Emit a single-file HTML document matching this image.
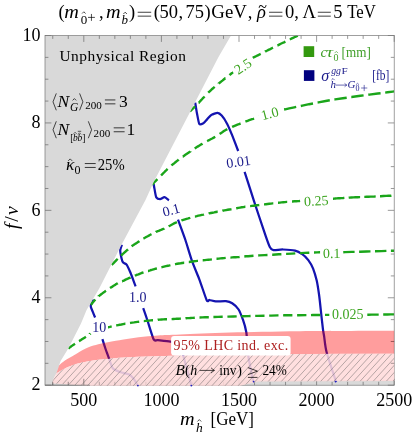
<!DOCTYPE html>
<html><head><meta charset="utf-8"><title>plot</title>
<style>html,body{margin:0;padding:0;background:#fff;}svg{display:block;will-change:transform;}text{font-family:"Liberation Serif",serif;}.i{font-style:italic;} .s{font-family:"Liberation Sans",sans-serif;}</style></head><body>
<svg width="415" height="436" viewBox="0 0 415 436">
<defs>
<clipPath id="pc"><rect x="45.0" y="35.5" width="349.2" height="349.7"/></clipPath>
<clipPath id="lpc"><path d="M50.0,380.0 C51.0,378.9 54.1,375.2 56.2,373.5 C58.3,371.8 60.6,370.7 62.5,369.7 C64.3,368.7 64.9,368.3 67.3,367.3 C69.7,366.3 73.4,364.7 76.9,363.7 C80.4,362.7 85.0,361.8 88.5,361.2 C92.0,360.6 95.0,360.2 98.2,359.8 C101.5,359.4 104.5,359.2 108.0,358.9 C111.5,358.6 115.6,358.1 119.3,357.8 C123.0,357.5 126.8,357.4 130.0,357.2 C133.2,357.0 133.9,357.0 138.5,356.8 C143.1,356.6 150.9,356.4 157.8,356.2 C164.7,356.0 166.3,355.7 180.0,355.4 C193.7,355.1 220.0,354.6 240.0,354.4 C260.0,354.2 274.3,354.1 300.0,354.0 C325.7,353.9 378.5,353.8 394.2,353.8 L394.6,381.0 L258.0,381.5 L240.0,385.8 L86.0,385.8 L45.0,382.8 L45,379.4 Z"/></clipPath>
<clipPath id="ng"><path d="M231.0,35.5 L218.5,57.0 L195.0,102.5 L153.7,182.0 L145.5,200.0 L120.6,246.6 L99.5,288.0 L86.6,310.0 L81.0,323.5 L68.3,348.5 L60.6,361.0 L56.7,372.6 L52.9,380.3 L51.8,386.0 L394.6,386.0 L394.6,35.5 Z"/></clipPath>
</defs>
<rect width="415" height="436" fill="#fff"/>
<g clip-path="url(#pc)">
<rect x="45.0" y="380" width="349.2" height="6" fill="#d9d9d9"/>
<path d="M195.2,102.6 C195.4,103.7 196.4,110.5 196.9,112.9 C197.4,115.3 198.6,122.8 199.3,123.9 C200.0,125.0 202.5,123.7 203.4,123.2 C204.3,122.7 206.4,120.0 207.3,119.1 C208.2,118.2 210.3,115.6 211.4,114.9 C212.5,114.2 216.5,112.8 217.6,112.9 C218.7,113.0 220.6,114.4 221.7,115.6 C222.8,116.8 226.1,121.8 227.2,123.9 C228.3,126.0 230.8,131.9 232.0,134.9 C233.2,137.9 237.5,149.2 238.2,151.0" fill="none" stroke="#1414b0" stroke-width="2.25" stroke-linejoin="round"/>
<path d="M244.6,171.9 C245.7,175.2 252.0,194.8 254.1,201.3 C256.2,207.8 262.0,225.1 263.7,230.2 C265.4,235.3 268.7,244.9 269.8,247.1 C270.9,249.3 271.9,249.9 273.4,250.2 C274.9,250.5 280.6,249.4 283.0,249.5 C285.4,249.6 293.0,250.2 295.1,250.7 C297.2,251.2 300.7,253.1 302.2,254.1 C303.7,255.1 307.1,258.5 308.3,260.1 C309.5,261.7 312.2,266.3 313.1,268.6 C314.0,270.9 316.0,277.7 316.7,280.6 C317.4,283.5 318.6,291.5 319.1,295.0 C319.6,298.5 320.6,308.2 321.0,312.0 C321.4,315.8 322.6,326.2 322.9,328.9 C323.2,331.6 323.7,333.6 324.1,336.1 C324.5,338.6 325.2,346.7 326.5,351.8 C327.8,356.9 335.0,378.6 336.1,381.9" fill="none" stroke="#1414b0" stroke-width="2.25" stroke-linejoin="round"/>
<path d="M153.6,183.8 C153.7,184.4 154.2,187.4 154.5,188.9 C154.8,190.4 155.7,196.3 156.3,197.4 C156.9,198.5 159.2,199.2 160.1,199.2 C161.0,199.2 163.5,197.0 164.5,197.1 C165.5,197.2 168.5,199.9 169.0,200.2" fill="none" stroke="#1414b0" stroke-width="2.25" stroke-linejoin="round"/>
<path d="M178.0,219.6 C178.8,221.9 183.9,235.5 185.4,240.0 C186.9,244.5 190.3,256.0 191.8,260.4 C193.3,264.8 197.6,274.9 199.3,279.3 C201.0,283.7 205.6,297.9 206.7,300.2 C207.8,302.5 208.5,299.9 209.5,300.0 C210.5,300.1 214.0,301.3 215.8,301.4 C217.6,301.5 224.1,301.0 225.9,301.2 C227.7,301.4 230.8,302.4 232.2,303.3 C233.6,304.2 237.4,307.6 238.6,309.5 C239.8,311.4 242.2,317.7 243.1,320.2 C244.0,322.7 245.8,329.5 246.3,332.3 C246.8,335.1 247.2,342.4 247.4,345.0 C247.6,347.6 248.0,353.2 248.3,355.8 C248.6,358.4 250.0,365.2 250.5,368.0 C251.0,370.8 252.8,379.6 253.1,381.1" fill="none" stroke="#1414b0" stroke-width="2.25" stroke-linejoin="round"/>
<path d="M121.9,244.7 C121.7,245.4 120.2,249.1 120.2,250.6 C120.2,252.1 121.2,256.9 121.5,258.2 C121.8,259.5 122.6,261.9 123.2,262.6 C123.8,263.3 125.8,263.5 126.6,264.6 C127.4,265.7 129.5,270.4 130.5,272.8 C131.5,275.2 135.0,284.8 135.6,286.3" fill="none" stroke="#1414b0" stroke-width="2.25" stroke-linejoin="round"/>
<path d="M143.2,308.2 C143.7,309.5 146.1,316.5 147.3,320.0 C148.5,323.5 152.5,337.2 153.7,339.4 C154.9,341.6 156.0,340.0 157.8,340.2 C159.6,340.4 168.1,341.3 170.3,341.6 C172.5,341.9 176.4,342.0 177.5,342.6 C178.6,343.2 179.9,345.5 180.5,347.0 C181.1,348.5 182.6,353.2 183.3,355.8 C184.0,358.4 186.3,366.7 187.2,370.0 C188.1,373.3 190.8,383.5 191.2,385.2" fill="none" stroke="#1414b0" stroke-width="2.25" stroke-linejoin="round"/>
<path d="M93.6,299.5 C93.3,300.2 90.8,304.5 90.7,305.8 C90.6,307.1 92.1,310.1 92.6,311.4 C93.1,312.7 94.8,316.8 95.1,317.5" fill="none" stroke="#1414b0" stroke-width="2.25" stroke-linejoin="round"/>
<path d="M102.4,339.2 C102.7,340.2 104.7,346.4 105.4,348.5 C106.1,350.6 108.1,355.9 108.9,358.1 C109.7,360.3 111.6,366.7 112.8,368.2 C114.0,369.7 118.2,371.3 120.0,372.0 C121.8,372.7 127.3,373.5 128.8,374.2 C130.3,374.9 132.4,377.1 133.4,378.4 C134.4,379.7 137.3,384.7 137.8,385.5" fill="none" stroke="#1414b0" stroke-width="2.25" stroke-linejoin="round"/>
<path d="M190.0,111.4 L190.0,111.4 L190.0,111.4 L189.9,111.5 L189.9,111.5 L189.9,111.5 L189.9,111.5 L190.1,111.3 L190.5,110.9 L191.0,110.4 L191.8,109.6 L192.8,108.7 L193.9,107.6 L195.1,106.4 L195.1,106.4 M198.7,102.7 L198.8,102.7 L199.9,101.5 L200.9,100.4 L202.0,99.3 L203.0,98.1 L204.1,97.0 L204.6,96.4 M208.2,92.7 L208.5,92.4 L209.7,91.3 L211.0,90.2 L212.2,89.0 L213.5,87.9 L214.7,86.9 M218.7,83.6 L218.7,83.5 L220.0,82.5 L221.4,81.4 L222.7,80.4 L224.0,79.3 L225.3,78.3 L225.4,78.3 M229.5,75.1 L229.8,74.8 L230.8,74.0 L231.7,73.3 L232.6,72.6 L233.3,72.0 L234.0,71.5 L234.6,71.0 L234.9,70.8 M252.7,57.8 L252.9,57.7 L253.5,57.4 L254.2,57.1 L255.1,56.7 L256.0,56.2 L257.1,55.7 L258.3,55.1 L259.5,54.5 L260.7,53.9 M265.1,51.7 L265.2,51.6 L266.8,50.8 L268.5,49.9 L270.2,49.1 L271.8,48.2 L273.0,47.6 M277.4,45.5 L277.7,45.4 L279.2,44.6 L280.8,43.8 L282.4,43.0 L284.0,42.3 L285.4,41.6 M289.8,39.5 L290.2,39.3 L291.9,38.4 L293.6,37.6 L295.2,36.8 L296.7,36.1 L297.8,35.6 M152.6,184.2 L152.6,184.2 L152.6,184.1 L152.6,184.1 L152.7,184.1 L152.7,184.0 L152.8,183.9 L152.9,183.7 L153.2,183.4 L153.5,183.1 L153.9,182.7 L154.4,182.2 L154.9,181.7 L155.5,181.1 L156.2,180.4 L157.0,179.6 L157.4,179.2 M161.1,175.5 L161.4,175.2 L162.6,173.9 L164.0,172.5 L165.3,171.1 L166.7,169.8 L167.6,168.9 M171.5,165.5 L171.6,165.4 L173.0,164.2 L174.4,163.1 L175.7,162.0 L177.1,160.9 L178.6,159.8 L178.7,159.7 M182.8,156.6 L182.9,156.6 L184.4,155.5 L185.8,154.4 L187.3,153.4 L188.8,152.4 L190.3,151.4 L190.3,151.3 M194.7,148.5 L194.7,148.5 L196.2,147.5 L197.6,146.6 L199.1,145.7 L200.6,144.8 L202.1,143.9 L202.5,143.6 M207.1,141.1 L207.3,141.0 L209.0,140.2 L210.6,139.3 L212.2,138.5 L213.8,137.6 L215.2,136.8 M219.6,134.0 L219.9,133.8 L221.2,132.9 L222.6,132.0 L223.9,131.1 L225.3,130.2 L226.8,129.4 L227.3,129.1 M232.1,126.9 L232.3,126.8 L234.0,126.1 L235.8,125.4 L237.5,124.7 L239.2,124.0 L240.6,123.5 M245.4,121.6 L245.9,121.4 L247.6,120.8 L249.2,120.2 L250.7,119.7 L252.1,119.2 L253.3,118.8 L254.1,118.5 M259.0,116.7 L259.1,116.7 L259.4,116.6 M284.1,109.5 L285.2,109.3 L289.2,108.4 L294.3,107.3 L296.2,106.9 M300.8,106.0 L302.4,105.6 L309.1,104.2 L313.0,103.5 M317.6,102.5 L318.5,102.4 L325.7,101.0 L329.8,100.3 M334.4,99.5 L335.1,99.4 L342.9,98.2 L346.7,97.7 M351.3,97.0 L351.5,97.0 L360.5,95.8 L363.6,95.4 M368.3,94.8 L369.4,94.6 L377.8,93.5 L380.6,93.2 M385.2,92.6 L387.4,92.3 L392.8,91.6 L394.2,91.4 M111.7,264.9 L111.8,264.8 L112.4,264.2 L113.0,263.6 L113.8,262.8 L114.7,261.9 L115.5,261.1 L116.4,260.2 L117.1,259.5 L117.7,258.9 M121.1,255.6 L121.3,255.4 L121.9,254.8 L122.6,254.1 L123.5,253.4 L124.3,252.6 L125.3,251.8 L126.2,251.0 L127.0,250.2 L127.9,249.5 L128.0,249.4 M131.7,246.3 L131.7,246.3 L132.3,245.8 L133.1,245.3 L133.9,244.7 L134.9,244.1 L135.9,243.4 L137.0,242.7 L138.0,242.0 L139.0,241.4 L139.4,241.1 M143.4,238.6 L143.6,238.5 L144.1,238.2 L144.9,237.8 L145.7,237.3 L146.7,236.7 L147.7,236.2 L148.8,235.6 L149.8,235.0 L150.8,234.5 L151.5,234.1 M155.8,232.0 L155.9,231.9 L156.7,231.6 L157.6,231.2 L158.7,230.8 L159.8,230.3 L161.0,229.9 L162.2,229.4 L163.3,229.0 L164.3,228.6 L164.4,228.5 M168.6,226.3 L168.8,226.2 L169.5,225.9 L170.3,225.5 L171.2,225.0 L172.1,224.5 L173.0,224.0 L174.1,223.4 L175.2,222.9 L176.3,222.4 L176.9,222.1 M181.4,220.5 L181.8,220.3 L183.3,219.8 L185.0,219.3 L186.6,218.8 L188.3,218.4 L190.0,217.9 L190.3,217.8 M194.9,216.6 L195.0,216.6 L196.7,216.2 L198.4,215.7 L200.1,215.3 L201.8,214.9 L203.5,214.6 L203.9,214.4 M208.6,213.5 L209.1,213.3 L210.8,213.0 L212.5,212.7 L214.2,212.4 L215.9,212.0 L217.5,211.7 L217.7,211.7 M222.4,210.8 L222.6,210.7 L224.3,210.4 L226.0,210.1 L227.7,209.8 L229.3,209.5 L231.0,209.2 L231.5,209.1 M236.2,208.3 L236.7,208.2 L238.3,207.9 L240.0,207.6 L241.7,207.3 L243.4,207.1 L245.1,206.8 L245.4,206.8 M250.1,206.1 L250.2,206.1 L251.9,205.9 L253.5,205.7 L255.2,205.5 L256.9,205.3 L258.6,205.1 L259.3,205.0 M264.0,204.4 L264.2,204.4 L265.9,204.2 L267.6,204.0 L269.3,203.8 L271.0,203.6 L272.7,203.4 L273.3,203.4 M278.0,202.8 L278.2,202.8 L279.9,202.6 L281.6,202.4 L283.3,202.2 L285.0,202.1 L286.8,201.9 L287.2,201.9 M292.0,201.5 L292.3,201.5 L294.4,201.3 L296.3,201.2 L298.0,201.1 L299.4,201.0 L300.1,200.9 M333.0,198.7 L333.3,198.7 L334.2,198.6 L335.3,198.5 L336.7,198.4 L338.2,198.3 L339.8,198.2 L341.4,198.1 L343.2,198.0 L344.4,197.9 M348.7,197.7 L349.3,197.6 L351.3,197.5 L353.4,197.4 L355.5,197.3 L357.6,197.2 L359.6,197.1 L360.1,197.1 M364.3,196.9 L364.8,196.9 L366.7,196.8 L368.7,196.7 L370.6,196.6 L372.6,196.6 L374.6,196.5 L375.7,196.4 M380.0,196.2 L380.8,196.2 L383.4,196.0 L386.1,195.9 L388.6,195.8 L390.9,195.7 L391.4,195.6 M90.9,304.8 L91.0,304.7 L91.4,304.2 L91.8,303.6 L92.4,302.9 L93.0,302.2 L93.6,301.5 L94.2,300.7 L94.8,300.1 L95.3,299.5 L95.3,299.5 M98.7,296.3 L98.7,296.2 L99.5,295.6 L100.3,295.0 L101.2,294.3 L102.1,293.6 L103.0,292.9 L103.9,292.2 L104.7,291.7 L105.4,291.1 L106.0,290.7 L106.0,290.7 M110.0,288.1 L110.0,288.1 L110.9,287.5 L111.9,286.9 L112.9,286.2 L113.9,285.6 L115.0,284.9 L115.9,284.3 L116.7,283.8 L117.5,283.4 L117.8,283.2 M122.1,281.3 L122.2,281.3 L123.2,280.8 L124.3,280.3 L125.5,279.7 L126.7,279.2 L127.8,278.7 L128.8,278.2 L129.7,277.8 L130.4,277.5 L130.5,277.4 M134.9,275.7 L135.1,275.6 L136.2,275.2 L137.3,274.7 L138.5,274.3 L139.6,273.8 L140.7,273.4 L141.7,273.0 L142.6,272.7 L143.2,272.5 L143.5,272.4 M148.0,271.1 L148.3,271.1 L149.2,270.7 L150.2,270.4 L151.2,270.0 L152.4,269.7 L153.6,269.3 L155.0,268.9 L156.5,268.5 L156.9,268.4 M161.4,267.2 L162.0,267.1 L164.0,266.6 L165.9,266.1 L167.9,265.7 L169.7,265.3 L170.4,265.1 M175.0,264.2 L175.5,264.1 L177.2,263.8 L178.9,263.5 L180.6,263.3 L182.3,263.0 L184.0,262.7 L184.2,262.7 M188.8,262.0 L189.0,262.0 L190.6,261.8 L192.3,261.6 L194.0,261.3 L195.7,261.1 L197.4,260.9 L198.0,260.9 M202.7,260.3 L203.1,260.3 L204.9,260.1 L206.6,259.9 L208.4,259.7 L210.1,259.6 L211.9,259.4 M216.5,258.8 L217.1,258.8 L218.8,258.6 L220.5,258.4 L222.3,258.2 L224.0,258.1 L225.7,257.9 M230.4,257.6 L230.5,257.6 L232.2,257.4 L234.0,257.3 L235.7,257.2 L237.5,257.1 L239.1,257.0 L239.6,256.9 M244.3,256.5 L244.3,256.5 L245.9,256.3 L248.1,256.2 L250.9,256.0 L253.5,255.8 M258.2,255.5 L259.3,255.4 L264.8,255.1 L267.5,255.0 M272.2,254.7 L272.7,254.7 L278.8,254.3 L281.4,254.2 M286.1,253.9 L286.6,253.9 L291.9,253.6 L295.3,253.4 M300.0,253.1 L300.7,253.1 L304.7,252.9 L308.6,252.7 L309.3,252.7 M314.0,252.5 L314.2,252.5 L317.1,252.4 L319.6,252.3 L321.5,252.2 M343.2,252.2 L345.3,252.1 L351.7,251.9 L354.6,251.9 M359.1,251.7 L360.2,251.7 L366.6,251.5 L370.5,251.4 M375.0,251.3 L375.1,251.3 L381.4,251.1 L386.4,250.9 M390.9,250.8 L392.1,250.8 L394.2,250.7 M68.3,348.5 L68.4,348.4 L69.0,348.0 L69.6,347.5 L70.4,346.9 L71.3,346.3 L72.2,345.6 L73.2,344.9 L74.3,344.2 L75.0,343.7 M79.0,341.1 L79.4,340.9 L80.9,340.0 L82.3,339.1 L83.7,338.2 L84.9,337.5 L85.9,336.8 L85.9,336.8 M89.9,334.0 L89.9,333.9 L90.3,333.7 L90.5,333.5 M108.0,327.3 L108.2,327.3 L108.9,327.1 L109.8,326.9 L110.9,326.6 L111.7,326.4 M116.2,325.5 L116.6,325.4 L118.1,325.1 L119.7,324.8 L121.4,324.5 L123.2,324.1 L125.0,323.8 L125.4,323.8 M130.0,323.0 L130.5,322.9 L132.3,322.6 L134.0,322.4 L135.8,322.1 L137.5,321.9 L139.2,321.7 M143.8,321.1 L143.9,321.1 L145.6,320.9 L147.3,320.7 L149.0,320.6 L150.7,320.4 L152.3,320.2 L153.0,320.2 M157.7,319.8 L158.0,319.7 L159.8,319.6 L161.5,319.5 L163.3,319.4 L165.1,319.3 L166.9,319.3 L167.0,319.3 M171.6,319.1 L171.6,319.1 L173.4,319.0 L175.1,318.9 L176.8,318.8 L178.5,318.7 L180.2,318.6 L180.9,318.5 M185.5,318.3 L185.9,318.2 L187.6,318.1 L189.2,318.1 L190.7,318.0 L192.2,317.9 L193.7,317.8 L194.8,317.7 M199.5,317.5 L199.8,317.5 L202.4,317.4 L205.1,317.3 L207.9,317.2 L208.8,317.2 M213.4,317.0 L214.3,317.0 L218.0,316.9 L222.0,316.8 L222.7,316.8 M227.4,316.6 L228.2,316.6 L233.5,316.5 L236.7,316.4 M241.3,316.3 L241.6,316.3 L248.2,316.1 L250.6,316.0 M255.2,315.9 L257.3,315.9 L264.3,315.7 L264.5,315.7 M269.2,315.6 L271.2,315.6 L277.9,315.4 L278.5,315.4 M283.1,315.4 L284.4,315.3 L291.4,315.2 L292.4,315.2 M297.1,315.2 L298.7,315.2 L305.9,315.1 L306.4,315.1 M311.0,315.1 L312.8,315.0 L319.1,315.0 L320.3,315.0 M325.0,314.9 L326.2,314.9 L330.0,314.9 M367.3,314.7 L368.4,314.7 L371.8,314.6 L375.1,314.6 L378.5,314.6 L378.7,314.6 M383.2,314.5 L384.1,314.5 L387.5,314.5 L390.8,314.4 L394.2,314.4" fill="none" stroke="#1aa51a" stroke-width="2.4"/>
<path d="M45.0,35.5 L231.0,35.5 L218.5,57.0 L195.0,102.5 L153.7,182.0 L145.5,200.0 L120.6,246.6 L99.5,288.0 L86.6,310.0 L81.0,323.5 L68.3,348.5 L60.6,361.0 L56.7,372.6 L52.9,380.3 L52.0,385.2 L45.0,385.2 Z" fill="#d9d9d9"/>
</g>
<path d="M52.76,385.2 v-3.4 M52.76,35.5 v3.4 M68.28,385.2 v-3.4 M68.28,35.5 v3.4 M83.80,385.2 v-6.4 M83.80,35.5 v6.4 M99.32,385.2 v-3.4 M99.32,35.5 v3.4 M114.84,385.2 v-3.4 M114.84,35.5 v3.4 M130.36,385.2 v-3.4 M130.36,35.5 v3.4 M145.88,385.2 v-3.4 M145.88,35.5 v3.4 M161.40,385.2 v-6.4 M161.40,35.5 v6.4 M176.92,385.2 v-3.4 M176.92,35.5 v3.4 M192.44,385.2 v-3.4 M192.44,35.5 v3.4 M207.96,385.2 v-3.4 M207.96,35.5 v3.4 M223.48,385.2 v-3.4 M223.48,35.5 v3.4 M239.00,385.2 v-6.4 M239.00,35.5 v6.4 M254.52,385.2 v-3.4 M254.52,35.5 v3.4 M270.04,385.2 v-3.4 M270.04,35.5 v3.4 M285.56,385.2 v-3.4 M285.56,35.5 v3.4 M301.08,385.2 v-3.4 M301.08,35.5 v3.4 M316.60,385.2 v-6.4 M316.60,35.5 v6.4 M332.12,385.2 v-3.4 M332.12,35.5 v3.4 M347.64,385.2 v-3.4 M347.64,35.5 v3.4 M363.16,385.2 v-3.4 M363.16,35.5 v3.4 M378.68,385.2 v-3.4 M378.68,35.5 v3.4 M394.20,385.2 v-6.4 M394.20,35.5 v6.4 M45.0,385.20 h6.4 M394.2,385.20 h-6.4 M45.0,363.34 h3.4 M394.2,363.34 h-3.4 M45.0,341.49 h3.4 M394.2,341.49 h-3.4 M45.0,319.63 h3.4 M394.2,319.63 h-3.4 M45.0,297.77 h6.4 M394.2,297.77 h-6.4 M45.0,275.92 h3.4 M394.2,275.92 h-3.4 M45.0,254.06 h3.4 M394.2,254.06 h-3.4 M45.0,232.21 h3.4 M394.2,232.21 h-3.4 M45.0,210.35 h6.4 M394.2,210.35 h-6.4 M45.0,188.49 h3.4 M394.2,188.49 h-3.4 M45.0,166.64 h3.4 M394.2,166.64 h-3.4 M45.0,144.78 h3.4 M394.2,144.78 h-3.4 M45.0,122.93 h6.4 M394.2,122.93 h-6.4 M45.0,101.07 h3.4 M394.2,101.07 h-3.4 M45.0,79.21 h3.4 M394.2,79.21 h-3.4 M45.0,57.36 h3.4 M394.2,57.36 h-3.4 M45.0,35.50 h6.4 M394.2,35.50 h-6.4" stroke="#555" stroke-width="0.6" fill="none"/>
<rect x="45.0" y="35.5" width="349.2" height="349.7" fill="none" stroke="#777" stroke-width="0.7"/>
<g clip-path="url(#ng)">
<path d="M55.0,368.7 C55.8,368.0 58.0,366.0 60.0,364.4 C62.0,362.8 64.5,360.9 67.3,359.1 C70.1,357.3 73.4,355.4 76.9,353.4 C80.4,351.4 85.0,348.8 88.5,347.3 C92.0,345.8 95.0,345.1 98.2,344.2 C101.4,343.3 104.3,342.8 107.8,342.2 C111.3,341.6 114.2,341.1 119.3,340.3 C124.4,339.5 132.1,338.1 138.5,337.3 C144.9,336.5 150.9,336.0 157.8,335.5 C164.7,335.0 168.0,335.0 180.0,334.5 C192.0,334.0 210.0,333.1 230.0,332.5 C250.0,331.9 272.6,331.5 300.0,331.2 C327.4,330.9 378.5,330.9 394.2,330.8 L394.2,353.8 L300.0,354.0 L240.0,354.4 L180.0,355.4 L157.8,356.2 L138.5,356.8 L130.0,357.2 L119.3,357.8 L108.0,358.9 L98.2,359.8 L88.5,361.2 L76.9,363.7 L67.3,367.3 L62.5,369.7 L56.2,373.5 L50.0,380.0 Z" fill="#ff0000" fill-opacity="0.385"/>
<path d="M50.0,380.0 C51.0,378.9 54.1,375.2 56.2,373.5 C58.3,371.8 60.6,370.7 62.5,369.7 C64.3,368.7 64.9,368.3 67.3,367.3 C69.7,366.3 73.4,364.7 76.9,363.7 C80.4,362.7 85.0,361.8 88.5,361.2 C92.0,360.6 95.0,360.2 98.2,359.8 C101.5,359.4 104.5,359.2 108.0,358.9 C111.5,358.6 115.6,358.1 119.3,357.8 C123.0,357.5 126.8,357.4 130.0,357.2 C133.2,357.0 133.9,357.0 138.5,356.8 C143.1,356.6 150.9,356.4 157.8,356.2 C164.7,356.0 166.3,355.7 180.0,355.4 C193.7,355.1 220.0,354.6 240.0,354.4 C260.0,354.2 274.3,354.1 300.0,354.0 C325.7,353.9 378.5,353.8 394.2,353.8 L394.6,381.0 L258.0,381.5 L240.0,385.8 L86.0,385.8 L45.0,382.8 L45,379.4 Z" fill="#ffdada" fill-opacity="0.87"/>
<path d="M-63.44,386.0 L-30.64,350.0 M-56.89,386.0 L-24.09,350.0 M-50.34,386.0 L-17.54,350.0 M-43.79,386.0 L-10.99,350.0 M-37.24,386.0 L-4.44,350.0 M-30.69,386.0 L2.11,350.0 M-24.14,386.0 L8.66,350.0 M-17.59,386.0 L15.21,350.0 M-11.04,386.0 L21.76,350.0 M-4.49,386.0 L28.31,350.0 M2.06,386.0 L34.86,350.0 M8.61,386.0 L41.41,350.0 M15.16,386.0 L47.96,350.0 M21.71,386.0 L54.51,350.0 M28.26,386.0 L61.06,350.0 M34.81,386.0 L67.61,350.0 M41.36,386.0 L74.16,350.0 M47.91,386.0 L80.71,350.0 M54.46,386.0 L87.26,350.0 M61.01,386.0 L93.81,350.0 M67.56,386.0 L100.36,350.0 M74.11,386.0 L106.91,350.0 M80.66,386.0 L113.46,350.0 M87.21,386.0 L120.01,350.0 M93.76,386.0 L126.56,350.0 M100.31,386.0 L133.11,350.0 M106.86,386.0 L139.66,350.0 M113.41,386.0 L146.21,350.0 M119.96,386.0 L152.76,350.0 M126.51,386.0 L159.31,350.0 M133.06,386.0 L165.86,350.0 M139.61,386.0 L172.41,350.0 M146.16,386.0 L178.96,350.0 M152.71,386.0 L185.51,350.0 M159.26,386.0 L192.06,350.0 M165.81,386.0 L198.61,350.0 M172.36,386.0 L205.16,350.0 M178.91,386.0 L211.71,350.0 M185.46,386.0 L218.26,350.0 M192.01,386.0 L224.81,350.0 M198.56,386.0 L231.36,350.0 M205.11,386.0 L237.91,350.0 M211.66,386.0 L244.46,350.0 M218.21,386.0 L251.01,350.0 M224.76,386.0 L257.56,350.0 M231.31,386.0 L264.11,350.0 M237.86,386.0 L270.66,350.0 M244.41,386.0 L277.21,350.0 M250.96,386.0 L283.76,350.0 M257.51,386.0 L290.31,350.0 M264.06,386.0 L296.86,350.0 M270.61,386.0 L303.41,350.0 M277.16,386.0 L309.96,350.0 M283.71,386.0 L316.51,350.0 M290.26,386.0 L323.06,350.0 M296.81,386.0 L329.61,350.0 M303.36,386.0 L336.16,350.0 M309.91,386.0 L342.71,350.0 M316.46,386.0 L349.26,350.0 M323.01,386.0 L355.81,350.0 M329.56,386.0 L362.36,350.0 M336.11,386.0 L368.91,350.0 M342.66,386.0 L375.46,350.0 M349.21,386.0 L382.01,350.0 M355.76,386.0 L388.56,350.0 M362.31,386.0 L395.11,350.0 M368.86,386.0 L401.66,350.0 M375.41,386.0 L408.21,350.0 M381.96,386.0 L414.76,350.0 M388.51,386.0 L421.31,350.0 M395.06,386.0 L427.86,350.0" stroke="#6e6a6a" stroke-width="0.5" fill="none" clip-path="url(#lpc)"/>
</g>
<path d="M52.76,385.2 v-3.4" stroke="#444" stroke-width="0.6" stroke-opacity="0.85" fill="none"/>
<path d="M68.28,385.2 v-3.4" stroke="#444" stroke-width="0.6" stroke-opacity="0.85" fill="none"/>
<path d="M83.80,385.2 v-6.4" stroke="#444" stroke-width="0.6" stroke-opacity="0.85" fill="none"/>
<path d="M99.32,385.2 v-3.4" stroke="#444" stroke-width="0.6" stroke-opacity="0.55" fill="none"/>
<path d="M114.84,385.2 v-3.4" stroke="#444" stroke-width="0.6" stroke-opacity="0.4" fill="none"/>
<path d="M130.36,385.2 v-3.4" stroke="#444" stroke-width="0.6" stroke-opacity="0.3" fill="none"/>
<path d="M145.88,385.2 v-3.4" stroke="#444" stroke-width="0.6" stroke-opacity="0.15" fill="none"/>
<path d="M45.0,385.2 H90" stroke="#777" stroke-width="0.7" fill="none"/>
<path d="M394.2,363.34 h-3.4" stroke="#444" stroke-width="0.6" stroke-opacity="0.7" fill="none"/>
<path d="M394.2,341.49 h-3.4" stroke="#444" stroke-width="0.6" stroke-opacity="0.45" fill="none"/>
<text x="83.8" y="406" font-size="18" text-anchor="middle">500</text>
<text x="161.4" y="406" font-size="18" text-anchor="middle">1000</text>
<text x="239.0" y="406" font-size="18" text-anchor="middle">1500</text>
<text x="316.6" y="406" font-size="18" text-anchor="middle">2000</text>
<text x="394.2" y="406" font-size="18" text-anchor="middle">2500</text>
<text x="40.6" y="390.4" font-size="18" text-anchor="end">2</text>
<text x="40.6" y="303.0" font-size="18" text-anchor="end">4</text>
<text x="40.6" y="215.5" font-size="18" text-anchor="end">6</text>
<text x="40.6" y="128.1" font-size="18" text-anchor="end">8</text>
<text x="40.6" y="40.7" font-size="18" text-anchor="end">10</text>
<text x="58.4" y="18.4" font-size="18.5">(</text>
<text x="64.2" y="18.4" font-size="18.5" class="i" textLength="14.6" lengthAdjust="spacingAndGlyphs">m</text>
<text x="80.7" y="23.7" font-size="13">0</text>
<path d="M82.1,13.5 L83.8,11.8 L85.6,13.5" fill="none" stroke="#000" stroke-width="0.7"/>
<path d="M88.00,17.4 h6.9 M91.45,13.95 v6.9" fill="none" stroke="#000" stroke-width="0.7"/>
<text x="98.9" y="18.4" font-size="18.5">,</text>
<text x="106.1" y="18.4" font-size="18.5" class="i" textLength="14.6" lengthAdjust="spacingAndGlyphs">m</text>
<text x="121.6" y="23.7" font-size="13" class="i">b</text>
<path d="M123.4,14.0 L125.2,12.2 L126.9,14.0" fill="none" stroke="#000" stroke-width="0.7"/>
<text x="129" y="18.4" font-size="18.5">)</text>
<path d="M137.7,12.25 h13.5 M137.7,16.15 h13.5" fill="none" stroke="#000" stroke-width="0.75"/>
<text x="153.7" y="18.4" font-size="18.5">(</text>
<text x="159.6" y="18.4" font-size="18.5">50</text>
<text x="178.4" y="18.4" font-size="18.5">,</text>
<text x="185.6" y="18.4" font-size="18.5">75</text>
<text x="204.4" y="18.4" font-size="18.5">)</text>
<text x="211.3" y="18.4" font-size="18.5" textLength="35.6" lengthAdjust="spacingAndGlyphs">GeV</text>
<text x="247.8" y="18.4" font-size="18.5">,</text>
<text x="257.0" y="18.4" font-size="18.5" class="i">ρ</text>
<text x="258.2" y="11.799999999999999" font-size="16">~</text>
<path d="M269.0,12.25 h13.4 M269.0,16.15 h13.4" fill="none" stroke="#000" stroke-width="0.75"/>
<text x="285.0" y="18.4" font-size="18.5">0</text>
<text x="294.2" y="18.4" font-size="18.5">,</text>
<text x="302.6" y="18.4" font-size="18.5">Λ</text>
<path d="M317.8,12.25 h13.0 M317.8,16.15 h13.0" fill="none" stroke="#000" stroke-width="0.75"/>
<text x="333.3" y="18.4" font-size="18.5">5</text>
<text x="347.2" y="18.4" font-size="18.5" textLength="28.6" lengthAdjust="spacingAndGlyphs">TeV</text>
<text x="59.5" y="61" font-size="15.4" textLength="126.5" lengthAdjust="spacing">Unphysical Region</text>
<path d="M56.3,93.4 L53.0,101.85 L56.3,110.3" fill="none" stroke="#000" stroke-width="0.7"/>
<text x="57.6" y="106.7" font-size="17.5" class="i">N</text>
<text x="70" y="110.9" font-size="11.5" class="i">G</text>
<path d="M72.6,100.4 L74.4,98.6 L76.2,100.4" fill="none" stroke="#000" stroke-width="0.7"/>
<path d="M79.6,93.4 L82.89999999999999,101.85 L79.6,110.3" fill="none" stroke="#000" stroke-width="0.7"/>
<text x="85.2" y="108.9" font-size="11" textLength="16.6" lengthAdjust="spacingAndGlyphs">200</text>
<path d="M104.9,99.95 h10.5 M104.9,103.85 h10.5" fill="none" stroke="#000" stroke-width="0.75"/>
<text x="119" y="106.7" font-size="17.5">3</text>
<path d="M56.3,121.3 L53.0,129.75 L56.3,138.2" fill="none" stroke="#000" stroke-width="0.7"/>
<text x="57.6" y="134.6" font-size="17.5" class="i">N</text>
<text x="70.2" y="140.79999999999998" font-size="9.5">[</text>
<text x="73" y="140.79999999999998" font-size="9.5" class="i">b</text>
<text x="77.4" y="140.79999999999998" font-size="9.5" class="i">b</text>
<text x="82.3" y="140.79999999999998" font-size="9.5">]</text>
<path d="M73.6,133.8 L75.1,132.3 L76.6,133.8" fill="none" stroke="#000" stroke-width="0.6"/>
<path d="M78.0,134.3 L79.5,132.8 L81.0,134.3" fill="none" stroke="#000" stroke-width="0.6"/>
<path d="M77.8,131.29999999999998 h3.4" stroke="#000" stroke-width="0.6"/>
<path d="M88.3,121.3 L91.6,129.75 L88.3,138.2" fill="none" stroke="#000" stroke-width="0.7"/>
<text x="93.6" y="136.79999999999998" font-size="11" textLength="16.6" lengthAdjust="spacingAndGlyphs">200</text>
<path d="M113.7,127.85 h10.9 M113.7,131.75 h10.9" fill="none" stroke="#000" stroke-width="0.75"/>
<text x="126.4" y="134.6" font-size="17.5">1</text>
<text x="66" y="170.3" font-size="17.5" class="i">κ</text>
<path d="M68.2,160.9 L70.2,158.9 L72.2,160.9" fill="none" stroke="#000" stroke-width="0.7"/>
<text x="74.6" y="173.70000000000002" font-size="12">0</text>
<path d="M84.8,163.55 h10.9 M84.8,167.45 h10.9" fill="none" stroke="#000" stroke-width="0.75"/>
<text x="97.8" y="170.3" font-size="17.5" textLength="26.8" lengthAdjust="spacingAndGlyphs">25%</text>
<g transform="translate(18,229) rotate(-90)">
<text x="0" y="0" font-size="19.5" class="i">f</text>
<text x="7.2" y="0" font-size="19.5">/</text>
<text x="14" y="0" font-size="19.5" class="i">v</text>
</g>
<text x="180" y="425.4" font-size="18.5" class="i" textLength="14.6" lengthAdjust="spacingAndGlyphs">m</text>
<text x="196.0" y="432.0" font-size="13.5" class="i">h</text>
<path d="M197.4,421.5 L199.3,419.6 L201.2,421.5" fill="none" stroke="#000" stroke-width="0.7"/>
<text x="210.5" y="425.4" font-size="18.5" textLength="43.4" lengthAdjust="spacingAndGlyphs">[GeV]</text>
<rect x="303.6" y="46.2" width="10.6" height="10.8" fill="#33990f"/>
<rect x="303.9" y="70.2" width="10.5" height="10.7" fill="#00007f"/>
<text x="320.6" y="56.6" font-size="15" class="i" fill="#3f9f28">c</text>
<text x="326.2" y="56.6" font-size="15" class="i" fill="#3f9f28" textLength="6.8" lengthAdjust="spacingAndGlyphs">τ</text>
<text x="333.5" y="61" font-size="10" fill="#3f9f28">0</text>
<path d="M334.6,53.1 L336.3,51.4 L338.0,53.1" fill="none" stroke="#3f9f28" stroke-width="0.65"/>
<text x="341.6" y="57" font-size="15" fill="#3f9f28" textLength="29.2" lengthAdjust="spacingAndGlyphs">[mm]</text>
<text x="321.3" y="80.9" font-size="16" class="i" fill="#1a1a8a">σ</text>
<text x="331.2" y="73.6" font-size="10.5" class="i" fill="#1a1a8a" textLength="9.8" lengthAdjust="spacingAndGlyphs">gg</text>
<text x="341.6" y="73.6" font-size="8.6" fill="#1a1a8a" textLength="6.2" lengthAdjust="spacingAndGlyphs">F</text>
<text x="330.6" y="88" font-size="11" class="i" fill="#1a1a8a">h</text>
<path d="M331.4,80.1 L333.0,78.5 L334.6,80.1" fill="none" stroke="#1a1a8a" stroke-width="0.65"/>
<path d="M336,85.1 H346.80 M344.59,83.40 Q345.95,84.59 346.80,85.1 Q345.95,85.61 344.59,86.80" fill="none" stroke="#1a1a8a" stroke-width="0.65"/>
<text x="347.6" y="88" font-size="11" class="i" fill="#1a1a8a">G</text>
<text x="355.5" y="90.9" font-size="8" fill="#1a1a8a">0</text>
<path d="M356.0,84.7 L357.5,83.3 L359.0,84.7" fill="none" stroke="#1a1a8a" stroke-width="0.6"/>
<path d="M361.10,88 h6.2 M364.2,84.90 v6.2" fill="none" stroke="#1a1a8a" stroke-width="0.6"/>
<text x="372.2" y="80.2" font-size="15" fill="#1a1a8a" textLength="17.2" lengthAdjust="spacingAndGlyphs">[fb]</text>
<g transform="translate(243.0,66.4) rotate(-34)">
<rect x="-11.5" y="-5.6" width="23.0" height="11.2" fill="#fff"/>
<text x="0" y="4.6" font-size="14" text-anchor="middle" fill="#3ea522">2.5</text></g>
<g transform="translate(269.8,113.5) rotate(-15)">
<rect x="-11.5" y="-5.6" width="23.0" height="11.2" fill="#fff"/>
<text x="0" y="4.6" font-size="14" text-anchor="middle" fill="#3ea522">1.0</text></g>
<g transform="translate(316.2,200.9) rotate(-3)">
<rect x="-15.0" y="-5.6" width="30.0" height="11.2" fill="#fff"/>
<text x="0" y="4.6" font-size="14" text-anchor="middle" fill="#3ea522">0.25</text></g>
<g transform="translate(331.6,253.3) rotate(-1)">
<rect x="-11.5" y="-5.6" width="23.0" height="11.2" fill="#fff"/>
<text x="0" y="4.6" font-size="14" text-anchor="middle" fill="#3ea522">0.1</text></g>
<g transform="translate(347.8,314.6) rotate(0)">
<rect x="-18.5" y="-5.6" width="37.0" height="11.2" fill="#fff"/>
<text x="0" y="4.6" font-size="14" text-anchor="middle" fill="#3ea522">0.025</text></g>
<g transform="translate(238.5,161.8) rotate(-8)">
<rect x="-15.0" y="-5.6" width="30.0" height="11.2" fill="#fff"/>
<text x="0" y="4.6" font-size="14" text-anchor="middle" fill="#1a1a8a">0.01</text></g>
<g transform="translate(171.2,210.1) rotate(-15)">
<rect x="-11.5" y="-5.6" width="23.0" height="11.2" fill="#fff"/>
<text x="0" y="4.6" font-size="14" text-anchor="middle" fill="#1a1a8a">0.1</text></g>
<g transform="translate(137.7,296.9) rotate(0)">
<rect x="-11.5" y="-5.6" width="23.0" height="11.2" fill="#fff"/>
<text x="0" y="4.6" font-size="14" text-anchor="middle" fill="#1a1a8a">1.0</text></g>
<g transform="translate(99.3,327.6) rotate(0)">
<rect x="-8.0" y="-5.6" width="16.0" height="11.2" fill="#fff"/>
<text x="0" y="4.6" font-size="14" text-anchor="middle" fill="#1a1a8a">10</text></g>
<circle cx="253.6" cy="381.6" r="0.9" fill="#2020c0"/>
<circle cx="335.6" cy="381.6" r="0.9" fill="#2020c0"/>
<circle cx="137.9" cy="385.6" r="0.9" fill="#2020c0"/>
<circle cx="191.3" cy="385.6" r="0.9" fill="#2020c0"/>
<rect x="171.1" y="336.1" width="119.5" height="19.3" rx="3" fill="#fff"/>
<text x="173.5" y="350.3" font-size="14" fill="#ad2020" textLength="114.7" lengthAdjust="spacing">95% LHC ind. exc.</text>
<text x="175.6" y="374.9" font-size="14.5" class="i" textLength="9.4" lengthAdjust="spacingAndGlyphs">B</text>
<text x="185.0" y="374.9" font-size="14">(</text>
<text x="190.3" y="374.9" font-size="14" class="i">h</text>
<path d="M199.6,370.4 H214.40 M211.02,367.80 Q213.10,369.62 214.40,370.4 Q213.10,371.18 211.02,373.00" fill="none" stroke="#000" stroke-width="0.7"/>
<text x="219.2" y="374.9" font-size="14" textLength="17.2" lengthAdjust="spacingAndGlyphs">inv</text>
<text x="237.3" y="374.9" font-size="14">)</text>
<path d="M247.9,367.6 L257.5,371.13 L247.9,374.66 M247.9,377.40000000000003 h9.6" fill="none" stroke="#000" stroke-width="0.75"/>
<text x="262.4" y="374.9" font-size="14" textLength="24.4" lengthAdjust="spacingAndGlyphs">24%</text>
</svg></body></html>
